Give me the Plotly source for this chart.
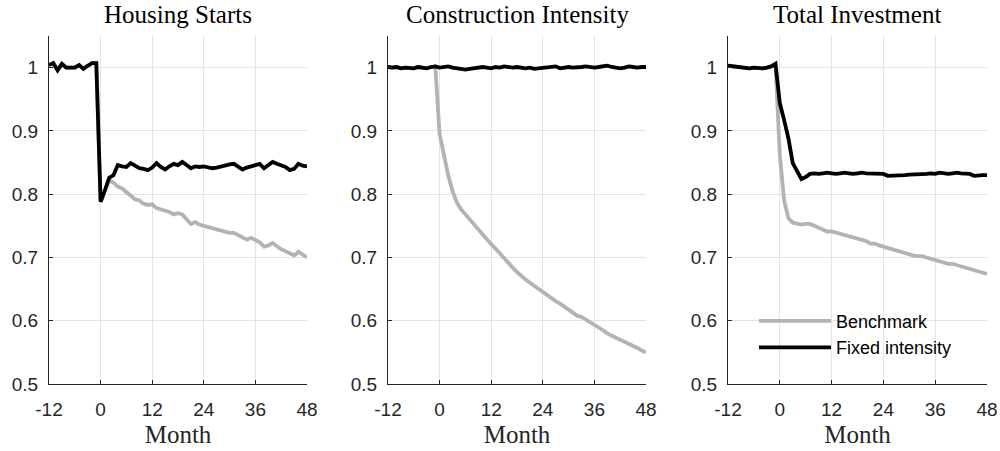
import plotly.graph_objects as go

months = list(range(-12, 49))

titles = ["Housing Starts", "Construction Intensity", "Total Investment"]
series_names = ["Benchmark", "Fixed intensity"]
x_ticks = [-12, 0, 12, 24, 36, 48]
x_ticktext = ["-12", "0", "12", "24", "36", "48"]
y_ticks = [0.5, 0.6, 0.7, 0.8, 0.9, 1.0]
y_ticktext = ["0.5", "0.6", "0.7", "0.8", "0.9", "1"]

# Housing Starts
hs_fixed = [1.004, 1.007, 0.996, 1.006, 1.000, 1.000, 1.000, 1.004, 0.998, 1.003, 1.007, 1.007,
            0.788, 0.806, 0.826, 0.830, 0.846, 0.844, 0.843, 0.849, 0.845, 0.841,
            0.840, 0.838, 0.842, 0.849, 0.843, 0.839, 0.844, 0.848, 0.846, 0.851,
            0.846, 0.841, 0.844, 0.843, 0.844, 0.842, 0.841, 0.842, 0.844, 0.845,
            0.847, 0.848, 0.843, 0.839, 0.842, 0.844, 0.847, 0.848, 0.841, 0.846,
            0.851, 0.848, 0.846, 0.843, 0.838, 0.840, 0.848, 0.845, 0.844]
hs_bench = [1.004, 1.007, 0.996, 1.006, 1.000, 1.000, 1.000, 1.004, 0.998, 1.003, 1.007, 1.007,
            0.788, 0.806, 0.822, 0.818, 0.812, 0.809, 0.803, 0.797, 0.792, 0.790,
            0.785, 0.783, 0.784, 0.778, 0.776, 0.775, 0.772, 0.768, 0.770, 0.768,
            0.760, 0.753, 0.756, 0.752, 0.750, 0.748, 0.746, 0.744, 0.742, 0.740,
            0.739, 0.739, 0.735, 0.731, 0.728, 0.731, 0.728, 0.724, 0.717, 0.719,
            0.723, 0.718, 0.713, 0.710, 0.707, 0.703, 0.709, 0.705, 0.700]

# Construction Intensity
ci_fixed = [1.001, 1.000, 1.001, 0.999, 1.000, 1.000, 0.999, 1.001, 1.000, 0.999, 1.001, 1.002,
            1.000, 1.001, 1.002, 1.000, 0.999, 0.997, 0.997, 0.998, 0.999, 1.000,
            1.001, 1.000, 0.999, 1.001, 1.000, 1.002, 1.001, 1.000, 1.001, 1.000,
            0.999, 1.000, 0.998, 0.999, 1.000, 1.000, 1.001, 1.002, 0.999, 1.000,
            1.001, 1.000, 1.000, 1.001, 1.002, 1.001, 1.000, 1.001, 1.002, 1.003,
            1.001, 1.000, 0.999, 1.000, 1.002, 1.001, 1.000, 1.001, 1.001]
ci_bench = [1.001, 1.000, 1.001, 0.999, 1.000, 1.000, 0.999, 1.001, 1.000, 0.999, 1.001, 1.002,
            0.895, 0.862, 0.830, 0.805, 0.787, 0.776, 0.768, 0.760, 0.752, 0.744,
            0.735, 0.728, 0.721, 0.714, 0.706, 0.698, 0.691, 0.684, 0.677, 0.670,
            0.665, 0.660, 0.655, 0.650, 0.646, 0.641, 0.636, 0.631, 0.627, 0.622,
            0.617, 0.612, 0.608, 0.606, 0.602, 0.597, 0.593, 0.589, 0.585, 0.580,
            0.576, 0.573, 0.570, 0.567, 0.564, 0.561, 0.557, 0.553, 0.550]

# Total Investment
ti_fixed = [1.003, 1.002, 1.001, 1.001, 1.000, 0.999, 1.000, 0.999, 0.999, 1.000, 1.002, 1.006,
            0.944, 0.917, 0.888, 0.849, 0.835, 0.824, 0.827, 0.832, 0.833, 0.832,
            0.833, 0.834, 0.833, 0.832, 0.833, 0.834, 0.833, 0.832, 0.833, 0.834,
            0.833, 0.833, 0.832, 0.833, 0.832, 0.829, 0.829, 0.830, 0.830, 0.830,
            0.831, 0.831, 0.832, 0.831, 0.832, 0.833, 0.832, 0.834, 0.833, 0.832,
            0.833, 0.834, 0.833, 0.833, 0.832, 0.829, 0.830, 0.830, 0.830]
ti_bench = [1.003, 1.002, 1.001, 1.001, 1.000, 0.999, 1.000, 0.999, 0.999, 1.000, 1.002, 1.006,
            0.862, 0.790, 0.762, 0.755, 0.753, 0.752, 0.753, 0.753, 0.750, 0.747,
            0.744, 0.741, 0.741, 0.739, 0.737, 0.735, 0.733, 0.731, 0.729, 0.727,
            0.726, 0.722, 0.722, 0.719, 0.717, 0.714, 0.712, 0.710, 0.708, 0.706,
            0.704, 0.703, 0.702, 0.702, 0.700, 0.698, 0.697, 0.695, 0.692, 0.690,
            0.690, 0.688, 0.686, 0.684, 0.682, 0.680, 0.678, 0.677, 0.674]

panels = [(hs_bench, hs_fixed), (ci_bench, ci_fixed), (ti_bench, ti_fixed)]
colors = ["#b3b3b3", "#000000"]

W, H = 1000, 451
x_domains = [(49, 307), (388, 646), (728, 987)]
y_top_px, y_bot_px = 36, 384
y_domain = [(H - y_bot_px) / H, (H - y_top_px) / H]

fig = go.Figure()
for i, (bench, fixed) in enumerate(panels):
    ax = "" if i == 0 else str(i + 1)
    for j, ys in enumerate([bench, fixed]):
        fig.add_trace(go.Scatter(
            x=months, y=ys, mode="lines",
            line=dict(color=colors[j], width=3.8),
            name=series_names[j], legendgroup=series_names[j],
            showlegend=(i == 2),
            xaxis="x" + ax, yaxis="y" + ax,
        ))

axis_color = "#262626"
layout = dict(
    width=W, height=H,
    margin=dict(l=0, r=0, t=0, b=0, autoexpand=False),
    paper_bgcolor="white", plot_bgcolor="white",
    showlegend=True,
    legend=dict(
        x=0.754, y=0.259, xanchor="left", yanchor="middle",
        bgcolor="rgba(0,0,0,0)", borderwidth=0,
        font=dict(family="Liberation Sans, Arial", size=18, color="#000000"),
        itemwidth=72, tracegroupgap=0,
    ),
    annotations=[],
)
for i in range(3):
    ax = "" if i == 0 else str(i + 1)
    xd = [x_domains[i][0] / W, x_domains[i][1] / W]
    layout["xaxis" + ax] = dict(
        domain=xd, range=[-12, 48], anchor="y" + ax, automargin=False,
        tickvals=x_ticks, ticktext=x_ticktext,
        showgrid=True, gridcolor="#e3e3e3", gridwidth=1,
        zeroline=False, showline=True, linecolor=axis_color, linewidth=1,
        ticks="inside", ticklen=4, tickcolor=axis_color,
        tickfont=dict(family="Liberation Sans, Arial", size=19, color=axis_color),
        ticklabelstandoff=8,
        title=dict(text="Month", font=dict(family="Liberation Serif, Times New Roman", size=25, color="#262626"), standoff=6),
    )
    layout["yaxis" + ax] = dict(
        domain=y_domain, range=[0.5, 1.05], anchor="x" + ax, automargin=False,
        tickvals=y_ticks, ticktext=y_ticktext,
        showgrid=True, gridcolor="#e3e3e3", gridwidth=1,
        zeroline=False, showline=True, linecolor=axis_color, linewidth=1,
        ticks="inside", ticklen=4, tickcolor=axis_color,
        tickfont=dict(family="Liberation Sans, Arial", size=19, color=axis_color),
        ticklabelstandoff=6,
    )
    layout["annotations"].append(dict(
        text=titles[i], xref="paper", yref="paper",
        x=(xd[0] + xd[1]) / 2, y=1.0, xanchor="center", yanchor="top",
        showarrow=False, borderpad=0,
        font=dict(family="Liberation Serif, Times New Roman", size=25, color="#000000"),
    ))

fig.update_layout(**layout)
fig.write_html("out.html")
